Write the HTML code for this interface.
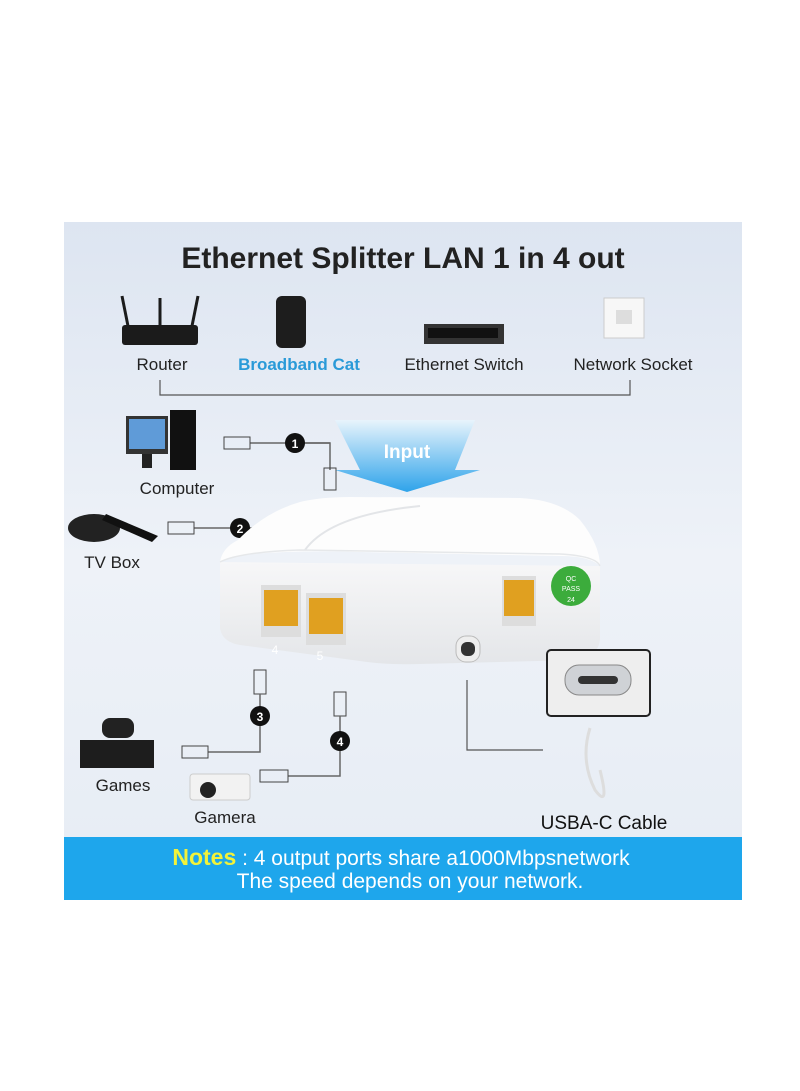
<!DOCTYPE html>
<html><head><style>
html,body{margin:0;padding:0;background:#fff;}
svg{display:block}
text{font-family:"Liberation Sans",sans-serif}
</style></head><body>
<svg width="800" height="1091" viewBox="0 0 800 1091" xmlns="http://www.w3.org/2000/svg">
<defs>
<linearGradient id="bg" x1="0" y1="0" x2="0" y2="1">
<stop offset="0" stop-color="#dde5f1"/><stop offset="0.5" stop-color="#eef2f8"/><stop offset="1" stop-color="#e6ecf4"/>
</linearGradient>
<linearGradient id="arr" x1="0" y1="0" x2="0" y2="1">
<stop offset="0" stop-color="#e8f4fc"/><stop offset="1" stop-color="#2ea3ea"/>
</linearGradient>
<linearGradient id="box" x1="0" y1="0" x2="0" y2="1">
<stop offset="0" stop-color="#ffffff"/><stop offset="1" stop-color="#eceef1"/>
</linearGradient>
<linearGradient id="front" x1="0" y1="0" x2="0" y2="1">
<stop offset="0" stop-color="#f7f7f8"/><stop offset="1" stop-color="#e4e6e9"/>
</linearGradient>
</defs>
<rect x="64" y="222" width="678" height="678" fill="url(#bg)"/>
<text x="403" y="268" font-size="30" font-weight="bold" fill="#222" text-anchor="middle">Ethernet Splitter LAN 1 in 4 out</text>
<g>
<rect x="122" y="325" width="76" height="20" rx="3" fill="#1b1b1b"/>
<line x1="128" y1="326" x2="122" y2="296" stroke="#1b1b1b" stroke-width="3"/>
<line x1="160" y1="326" x2="160" y2="298" stroke="#1b1b1b" stroke-width="3"/>
<line x1="192" y1="326" x2="198" y2="296" stroke="#1b1b1b" stroke-width="3"/>
<rect x="276" y="296" width="30" height="52" rx="6" fill="#1d1d1d"/>
<rect x="424" y="324" width="80" height="20" fill="#333"/><rect x="428" y="328" width="70" height="10" fill="#111"/>
<rect x="604" y="298" width="40" height="40" fill="#f7f7f7" stroke="#ccc"/><rect x="616" y="310" width="16" height="14" fill="#ddd"/>
</g>
<text x="162" y="370" font-size="17" fill="#222" text-anchor="middle">Router</text>
<text x="299" y="370" font-size="17" font-weight="bold" fill="#2a9ad8" text-anchor="middle">Broadband Cat</text>
<text x="464" y="370" font-size="17" fill="#222" text-anchor="middle">Ethernet Switch</text>
<text x="633" y="370" font-size="17" fill="#222" text-anchor="middle">Network Socket</text>
<polyline points="160,380 160,395 630,395 630,380" fill="none" stroke="#555" stroke-width="1.2"/>
<polygon points="335,420 475,420 455,470 480,470 407,492 335,470 360,470" fill="url(#arr)"/>
<text x="407" y="458" font-size="19" font-weight="bold" fill="#fff" text-anchor="middle">Input</text>
<rect x="126" y="416" width="42" height="38" fill="#333"/><rect x="129" y="419" width="36" height="30" fill="#5f9bd8"/>
<rect x="142" y="454" width="10" height="14" fill="#222"/><rect x="170" y="410" width="26" height="60" fill="#111"/>
<text x="177" y="494" font-size="17" fill="#222" text-anchor="middle">Computer</text>
<line x1="250" y1="443" x2="330" y2="443" stroke="#666" stroke-width="1.5"/>
<polyline points="300,443 330,443 330,470" fill="none" stroke="#666" stroke-width="1.5"/>
<rect x="224" y="437" width="26" height="12" fill="none" stroke="#444"/>
<rect x="324" y="468" width="12" height="22" fill="none" stroke="#444"/>
<circle cx="295" cy="443" r="10" fill="#111"/><text x="295" y="448" font-size="12" font-weight="bold" fill="#fff" text-anchor="middle">1</text>
<ellipse cx="94" cy="528" rx="26" ry="14" fill="#222"/>
<polygon points="106,514 158,536 152,542 102,520" fill="#111"/>
<text x="112" y="568" font-size="17" fill="#222" text-anchor="middle">TV Box</text>
<line x1="194" y1="528" x2="272" y2="528" stroke="#666" stroke-width="1.5"/>
<rect x="168" y="522" width="26" height="12" fill="none" stroke="#444"/>
<circle cx="240" cy="528" r="10" fill="#111"/><text x="240" y="533" font-size="12" font-weight="bold" fill="#fff" text-anchor="middle">2</text>
<!-- device -->
<path d="M220,562 L220,628 Q222,642 240,645 L360,661 Q385,665 420,664 L578,660 Q598,656 600,640 L600,566 Z" fill="url(#front)"/>
<path d="M220,562 Q222,548 238,540 Q265,512 300,502 Q320,497 350,497 L520,498 Q560,500 580,520 Q600,545 600,566 Q590,556 560,556 L360,552 Q300,550 250,554 Q228,556 220,562 Z" fill="#fdfdfd"/>
<path d="M305,550 Q330,515 420,506" fill="none" stroke="#e3e5e8" stroke-width="2"/>
<path d="M220,562 Q240,552 300,550 L560,554 Q596,556 600,566" fill="none" stroke="#e6e8ea" stroke-width="1.5"/>
<rect x="261" y="585" width="40" height="52" fill="#ddd"/><rect x="264" y="590" width="34" height="36" fill="#e0a020"/>
<rect x="306" y="593" width="40" height="52" fill="#ddd"/><rect x="309" y="598" width="34" height="36" fill="#e0a020"/>
<rect x="502" y="576" width="34" height="50" fill="#ddd"/><rect x="504" y="580" width="30" height="36" fill="#e0a020"/>
<circle cx="571" cy="586" r="20" fill="#3cac3c"/>
<text x="571" y="581" font-size="7" fill="#fff" text-anchor="middle">QC</text><text x="571" y="591" font-size="7" fill="#fff" text-anchor="middle">PASS</text><text x="571" y="602" font-size="7" fill="#fff" text-anchor="middle">24</text>
<rect x="456" y="636" width="24" height="26" rx="10" fill="#eee" stroke="#bbb"/><rect x="461" y="642" width="14" height="14" rx="6" fill="#333"/>
<text x="275" y="654" font-size="12" fill="#fff" text-anchor="middle">4</text>
<text x="320" y="660" font-size="12" fill="#fff" text-anchor="middle">5</text>
<rect x="547" y="650" width="103" height="66" rx="4" fill="#eee" stroke="#222" stroke-width="2"/>
<rect x="565" y="665" width="66" height="30" rx="14" fill="#cfd2d6" stroke="#888"/><rect x="578" y="676" width="40" height="8" rx="4" fill="#333"/>
<polyline points="467,680 467,750 543,750" fill="none" stroke="#555" stroke-width="1.2"/>
<path d="M590,728 Q580,760 595,790 Q610,810 600,770" fill="none" stroke="#ddd" stroke-width="3"/>
<text x="604" y="829" font-size="19" fill="#111" text-anchor="middle">USBA-C Cable</text>
<rect x="254" y="670" width="12" height="24" fill="none" stroke="#444"/>
<polyline points="260,694 260,752 208,752" fill="none" stroke="#666" stroke-width="1.5"/>
<circle cx="260" cy="716" r="10" fill="#111"/><text x="260" y="721" font-size="12" font-weight="bold" fill="#fff" text-anchor="middle">3</text>
<rect x="182" y="746" width="26" height="12" fill="none" stroke="#444"/>
<rect x="334" y="692" width="12" height="24" fill="none" stroke="#444"/>
<polyline points="340,716 340,776 288,776" fill="none" stroke="#666" stroke-width="1.5"/>
<circle cx="340" cy="741" r="10" fill="#111"/><text x="340" y="746" font-size="12" font-weight="bold" fill="#fff" text-anchor="middle">4</text>
<rect x="260" y="770" width="28" height="12" fill="none" stroke="#444"/>
<rect x="80" y="740" width="74" height="28" fill="#1d1d1d"/><rect x="102" y="718" width="32" height="20" rx="8" fill="#222"/>
<text x="123" y="791" font-size="17" fill="#222" text-anchor="middle">Games</text>
<rect x="190" y="774" width="60" height="26" rx="3" fill="#f2f2f2" stroke="#ccc"/><circle cx="208" cy="790" r="8" fill="#222"/>
<text x="225" y="823" font-size="17" fill="#222" text-anchor="middle">Gamera</text>
<rect x="64" y="837" width="678" height="63" fill="#1ea6ec"/>
<text x="401" y="865" font-size="21" fill="#fff" text-anchor="middle"><tspan font-weight="bold" fill="#f2f23a" font-size="23">Notes</tspan> : 4 output ports share a1000Mbpsnetwork</text>
<text x="410" y="888" font-size="21" fill="#fff" text-anchor="middle">The speed depends on your network.</text>
</svg>
</body></html>
